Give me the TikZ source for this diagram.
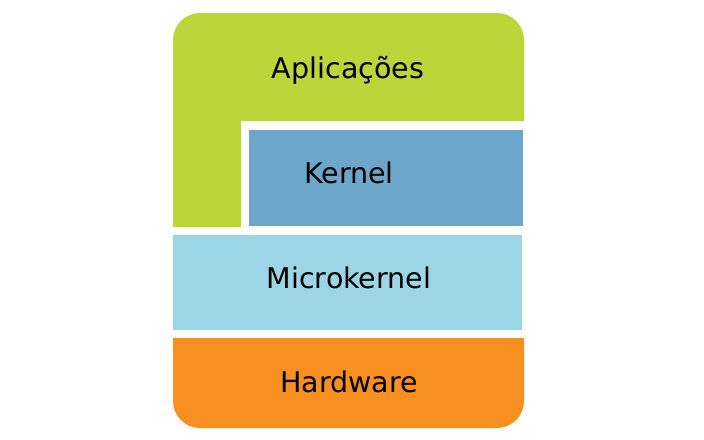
\documentclass[tikz,border=0pt]{standalone}
\usepackage{fontspec}
\setmainfont{DejaVu Sans}
\definecolor{appgreen}{RGB}{188,213,56}
\definecolor{kernelblue}{RGB}{108,166,203}
\definecolor{microblue}{RGB}{156,213,229}
\definecolor{hworange}{RGB}{247,144,32}
\begin{document}
\begin{tikzpicture}[x=1pt,y=-1pt,
  lbl/.style={anchor=base,font=\fontsize{28.5}{32}\selectfont,text=black,inner sep=0pt}]
\useasboundingbox (0,0) rectangle (704,439);
% Aplicações (L-shaped)
\fill[appgreen] (173,227) [rounded corners=27pt] -- (173,13) -- (524,13) [sharp corners] -- (524,121)
  -- (241,121) -- (241,227) -- cycle;
% Kernel
\fill[kernelblue] (249,130) rectangle (523,226);
% Microkernel
\fill[microblue] (173,235) rectangle (522,330);
% Hardware
\fill[hworange] (524,338) [rounded corners=27pt] -- (524,428) -- (173,428) [sharp corners] -- (173,338) -- cycle;
\node[lbl] (app) at (348,78) {Aplicações};
\node[lbl] (kern) at (349,183) {Kernel};
\node[lbl] (micro) at (349,288) {Microkernel};
\node[lbl] (hw) at (349,392) {Hardware};
\end{tikzpicture}
\end{document}
